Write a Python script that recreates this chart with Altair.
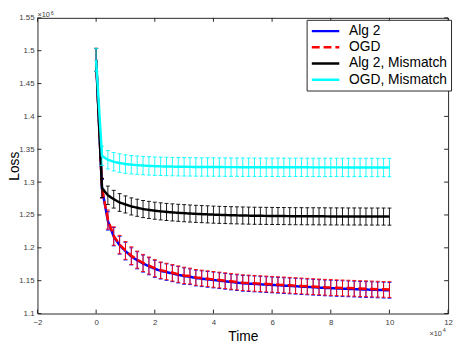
import altair as alt
import pandas as pd

# ---------------- data ----------------
times = list(range(0, 100001, 2000))  # sample positions

series_names = ["Alg 2", "OGD", "Alg 2, Mismatch", "OGD, Mismatch"]
series_colors = ["#0000ff", "#ff0000", "#000000", "#00ffff"]

alg2 = [1.486, 1.290, 1.241, 1.217, 1.204, 1.195, 1.187, 1.181, 1.176, 1.172,
        1.168, 1.165, 1.163, 1.161, 1.159, 1.157, 1.156, 1.154, 1.153, 1.152,
        1.151, 1.150, 1.149, 1.148, 1.147, 1.146, 1.1455, 1.145, 1.1445, 1.144,
        1.1435, 1.143, 1.1425, 1.142, 1.1415, 1.141, 1.1405, 1.140, 1.1395, 1.139,
        1.1386, 1.1382, 1.1378, 1.1375, 1.1372, 1.1368, 1.1365, 1.1362, 1.1359, 1.1356,
        1.1353]
ogd = [1.486, 1.291, 1.243, 1.218, 1.205, 1.196, 1.188, 1.182, 1.177, 1.173,
       1.169, 1.166, 1.164, 1.162, 1.160, 1.158, 1.157, 1.155, 1.154, 1.153,
       1.152, 1.151, 1.150, 1.149, 1.148, 1.147, 1.1465, 1.146, 1.1455, 1.145,
       1.1445, 1.144, 1.1435, 1.143, 1.1425, 1.142, 1.1415, 1.141, 1.1405, 1.140,
       1.1397, 1.1393, 1.139, 1.1387, 1.1384, 1.138, 1.1377, 1.1374, 1.1371, 1.1368,
       1.1365]
alg2_mm = [1.486, 1.291, 1.280, 1.274, 1.269, 1.266, 1.263, 1.261, 1.259, 1.2577,
           1.2565, 1.2555, 1.2546, 1.2539, 1.2533, 1.2527, 1.2522, 1.2517, 1.2513, 1.2509,
           1.2505, 1.2502, 1.2499, 1.2496, 1.2494, 1.2492, 1.2490, 1.2488, 1.2487, 1.2486,
           1.2485, 1.2484, 1.2483, 1.2482, 1.2481, 1.2481, 1.2480, 1.2480, 1.2479, 1.2479,
           1.2478, 1.2478, 1.2478, 1.2477, 1.2477, 1.2477, 1.2476, 1.2476, 1.2476, 1.2476,
           1.2475]
ogd_mm = [1.486, 1.340, 1.334, 1.331, 1.329, 1.3275, 1.3265, 1.3258, 1.3252, 1.3247,
          1.3243, 1.3240, 1.3238, 1.3236, 1.3234, 1.3233, 1.3232, 1.3231, 1.3230, 1.3230,
          1.3229, 1.3229, 1.3228, 1.3228, 1.3228, 1.3227, 1.3227, 1.3227, 1.3226, 1.3226,
          1.3226, 1.3226, 1.3225, 1.3225, 1.3225, 1.3225, 1.3225, 1.3224, 1.3224, 1.3224,
          1.3224, 1.3224, 1.3224, 1.3223, 1.3223, 1.3223, 1.3223, 1.3223, 1.3223, 1.3222,
          1.3222]

# error-bar half widths
alg2_err = [0.0175, 0.014, 0.014, 0.014, 0.0135, 0.0135, 0.013, 0.013, 0.013, 0.013,
            0.013, 0.0125, 0.0125, 0.0125, 0.0125, 0.0125, 0.012, 0.012, 0.012, 0.012,
            0.012, 0.012, 0.012, 0.012, 0.012, 0.012, 0.012, 0.012, 0.012, 0.012,
            0.012, 0.012, 0.012, 0.012, 0.012, 0.012, 0.012, 0.012, 0.012, 0.012,
            0.012, 0.012, 0.012, 0.012, 0.012, 0.012, 0.012, 0.012, 0.012, 0.012,
            0.012]
ogd_err = [0.0175, 0.015, 0.0145, 0.014, 0.014, 0.0135, 0.0135, 0.013, 0.013, 0.013,
           0.013, 0.0125, 0.0125, 0.0125, 0.0125, 0.0125, 0.012, 0.012, 0.012, 0.012,
           0.012, 0.012, 0.012, 0.012, 0.012, 0.012, 0.012, 0.012, 0.012, 0.012,
           0.012, 0.012, 0.012, 0.012, 0.012, 0.012, 0.012, 0.012, 0.012, 0.012,
           0.012, 0.012, 0.012, 0.012, 0.012, 0.012, 0.012, 0.012, 0.012, 0.012,
           0.012]
alg2_mm_err = [0.0175, 0.0145, 0.014, 0.0135, 0.0135, 0.013, 0.013, 0.013, 0.013, 0.013,
               0.013, 0.013, 0.013, 0.013, 0.013, 0.013, 0.013, 0.013, 0.013, 0.013,
               0.013, 0.013, 0.013, 0.013, 0.013, 0.013, 0.013, 0.013, 0.013, 0.013,
               0.013, 0.013, 0.013, 0.013, 0.013, 0.013, 0.013, 0.013, 0.013, 0.013,
               0.013, 0.013, 0.013, 0.013, 0.013, 0.013, 0.013, 0.013, 0.013, 0.013,
               0.013]
ogd_mm_err = [0.0175, 0.0145, 0.014, 0.014, 0.014, 0.014, 0.014, 0.014, 0.014, 0.014,
              0.014, 0.014, 0.014, 0.014, 0.014, 0.014, 0.014, 0.014, 0.014, 0.014,
              0.014, 0.014, 0.014, 0.014, 0.014, 0.014, 0.014, 0.014, 0.014, 0.014,
              0.014, 0.014, 0.014, 0.014, 0.014, 0.014, 0.014, 0.014, 0.014, 0.014,
              0.014, 0.014, 0.014, 0.014, 0.014, 0.014, 0.014, 0.014, 0.014, 0.014,
              0.014]

x_ticks = [-2, 0, 2, 4, 6, 8, 10, 12]          # x 10^4
y_ticks = [1.1, 1.15, 1.2, 1.25, 1.3, 1.35, 1.4, 1.45, 1.5, 1.55]  # x 10^6

# ---------------- build table ----------------
rows = []
for name, vals, errs in zip(series_names, [alg2, ogd, alg2_mm, ogd_mm],
                            [alg2_err, ogd_err, alg2_mm_err, ogd_mm_err]):
    for t, v, e in zip(times, vals, errs):
        rows.append({"series": name, "t": t / 1e4, "loss": v, "lo": v - e, "hi": v + e})
df = pd.DataFrame(rows)

W, H = 418, 301
FONT = "Liberation Sans"
AX = "#262626"

xs = alt.Scale(domain=[-2, 12], nice=False, zero=False)
ys = alt.Scale(domain=[1.1, 1.55], nice=False, zero=False)

x_axis = alt.Axis(values=x_ticks, format="d", title="Time", ticks=False, domain=False,
                  grid=False, labelFlush=False, labelPadding=5, titlePadding=3,
                  labelOverlap=False)
y_axis = alt.Axis(values=y_ticks, format="~g", title="Loss", ticks=False, domain=False,
                  grid=False, labelFlush=False, labelPadding=3.5, labelOverlap=False,
                  titleX=-19, titleBaseline="alphabetic", titleAngle=270)

X = alt.X("t:Q", scale=xs, axis=x_axis)
Y = alt.Y("loss:Q", scale=ys, axis=y_axis)

leg = alt.Legend(title=None, orient="none", legendX=274, legendY=2,
                 symbolType="M-2.33,0H2.33", symbolSize=144, symbolStrokeWidth=2.5,
                 symbolOffset=7.75, labelOffset=16.5,
                 labelFontSize=14, labelFont=FONT, labelColor="black",
                 padding=4, strokeColor=AX, fillColor="white", rowPadding=1.5,
                 labelLimit=0, cornerRadius=0)
color_enc = alt.Color("series:N", scale=alt.Scale(domain=series_names, range=series_colors),
                      legend=leg)
dash_enc = alt.StrokeDash("series:N",
                          scale=alt.Scale(domain=series_names,
                                          range=[[1, 0], [8, 4], [1, 0], [1, 0]]),
                          legend=leg)

layers = []
for name, col in zip(series_names, series_colors):
    base = alt.Chart(df).transform_filter(alt.datum.series == name)
    bars = base.mark_rule(color=col, strokeWidth=1, opacity=0.9).encode(
        x=X, y=alt.Y("lo:Q", scale=ys, axis=y_axis), y2="hi:Q")
    cap_lo = base.mark_tick(color=col, orient="horizontal", size=4, thickness=1,
                            opacity=0.9).encode(x=X, y=alt.Y("lo:Q", scale=ys, axis=y_axis))
    cap_hi = base.mark_tick(color=col, orient="horizontal", size=4, thickness=1,
                            opacity=0.9).encode(x=X, y=alt.Y("hi:Q", scale=ys, axis=y_axis))
    line = base.mark_line(strokeWidth=2.5).encode(x=X, y=Y, color=color_enc,
                                                  strokeDash=dash_enc)
    layers += [bars, cap_lo, cap_hi, line]

# inward ticks on all four sides
xt = pd.DataFrame({"t": x_ticks})
yt = pd.DataFrame({"loss": y_ticks})
tick_style = dict(color=AX, strokeWidth=1)
layers += [
    alt.Chart(xt).mark_rule(**tick_style).encode(x=X, y=alt.value(H), y2=alt.value(H - 4)),
    alt.Chart(xt).mark_rule(**tick_style).encode(x=X, y=alt.value(0), y2=alt.value(4)),
    alt.Chart(yt).mark_rule(**tick_style).encode(y=Y, x=alt.value(0), x2=alt.value(4)),
    alt.Chart(yt).mark_rule(**tick_style).encode(y=Y, x=alt.value(W), x2=alt.value(W - 4)),
]

# exponent annotations
one = pd.DataFrame({"k": [0]})
txt = dict(font=FONT, color="#404040", align="left", baseline="alphabetic")
layers += [
    alt.Chart(one).mark_text(text="×10", fontSize=7.5, **txt).encode(x=alt.value(0), y=alt.value(-0.5)),
    alt.Chart(one).mark_text(text="6", fontSize=5.5, **txt).encode(x=alt.value(13.5), y=alt.value(-2.5)),
    alt.Chart(one).mark_text(text="×10", fontSize=7.5, **txt).encode(x=alt.value(399), y=alt.value(324)),
    alt.Chart(one).mark_text(text="4", fontSize=5.5, **txt).encode(x=alt.value(412.5), y=alt.value(320)),
]

chart = alt.layer(*layers).properties(
    width=W, height=H,
    autosize=alt.AutoSizeParams(type="none"),
    padding={"left": 30, "top": 7, "right": 5, "bottom": 28},
).configure_view(
    stroke=AX, strokeWidth=1
).configure_axis(
    labelFont=FONT, labelFontSize=8, labelColor="#404040",
    titleFont=FONT, titleFontSize=14, titleFontWeight="normal", titleColor="black"
)

chart.save("out.html", embed_options={"renderer": "svg", "actions": False})
